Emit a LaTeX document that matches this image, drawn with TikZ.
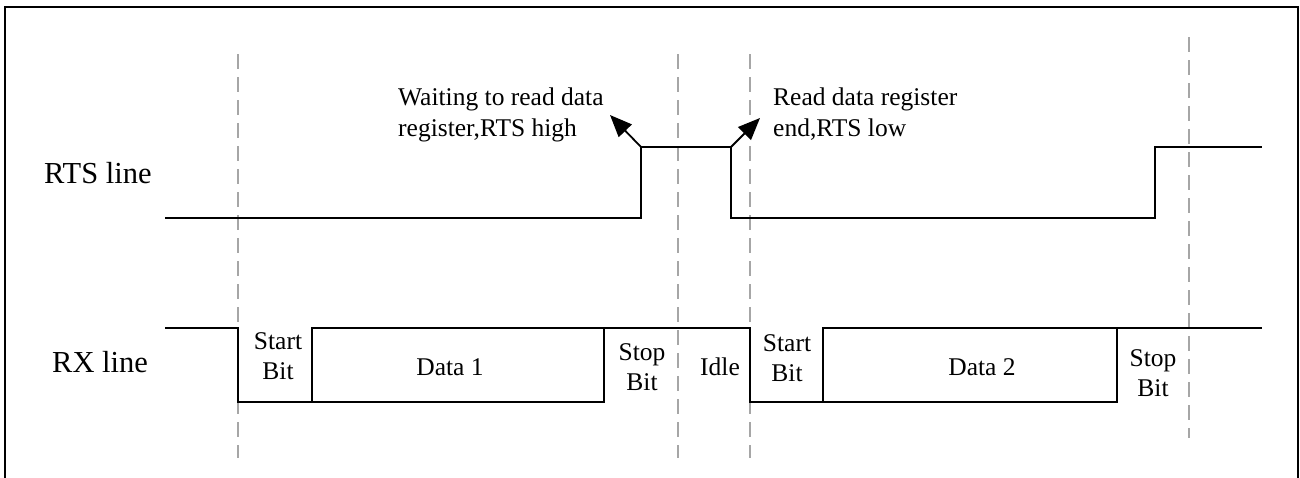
\documentclass[tikz,border=0pt]{standalone}
\usepackage{fontspec}
\setmainfont{Liberation Serif}
\usetikzlibrary{arrows.meta}

\begin{document}
\begin{tikzpicture}[x=1pt, y=-1pt,
    sig/.style={line width=1.8pt},
    bnd/.style={line width=1.4pt, gray!70, dash pattern=on 15pt off 8pt},
    tip/.style={line width=1.8pt, -{Triangle[length=22pt, width=18pt]}},
    big/.style={font=\fontsize{30.5}{36}\selectfont, inner sep=0pt},
    lbl/.style={font=\fontsize{25.5}{30.5}\selectfont, inner sep=0pt, align=center}]
    \useasboundingbox (0,0) rectangle (1300,477);

    % Frame
    \draw[line width=2.5pt] (5,7) rectangle (1298,481);

    % Bit boundaries
    \foreach \x in {238,678,750} \draw[bnd] (\x,54) -- (\x,458);
    \draw[bnd] (1189,37) -- (1189,438);

    % Signal names
    \node[big, anchor=base west] (rts) at (44,183) {RTS line};
    \node[big, anchor=base west] (rx) at (52,372) {RX line};

    % RTS line
    \coordinate (rtsup) at (641,147);
    \coordinate (rtsdn) at (731,147);
    \draw[sig] (165,218) -- (641,218) -- (rtsup) -- (rtsdn) -- (731,218)
        -- (1155,218) -- (1155,147) -- (1262,147);

    % RTS notes
    \node[lbl, align=left, anchor=north west] (wait) at (398,88) {Waiting to read data\\register,RTS high};
    \node[lbl, align=left, anchor=north west] (rdend) at (773,88) {Read data register\\end,RTS low};
    \coordinate (waittip) at (610,115);
    \coordinate (endtip) at (760,118);
    \draw[tip] (rtsup) -- (waittip);
    \draw[tip] (rtsdn) -- (endtip);

    % RX line
    \draw[sig] (165,328) -- (238,328) -- (238,402) -- (604,402) -- (604,328)
        -- (750,328) -- (750,402) -- (1117,402) -- (1117,328) -- (1262,328);
    \draw[sig] (312,402) -- (312,328) -- (604,328);
    \draw[sig] (823,402) -- (823,328) -- (1117,328);

    % Frame fields
    \node[lbl] (start1) at (278,356) {Start\\Bit};
    \node[lbl, anchor=base] (data1) at (450,375) {Data 1};
    \node[lbl] (stop1) at (642,367) {Stop\\Bit};
    \node[lbl, anchor=base] (idle) at (720,375) {Idle};
    \node[lbl] (start2) at (787,358) {Start\\Bit};
    \node[lbl, anchor=base] (data2) at (982,375) {Data 2};
    \node[lbl] (stop2) at (1153,373) {Stop\\Bit};
\end{tikzpicture}
\end{document}
